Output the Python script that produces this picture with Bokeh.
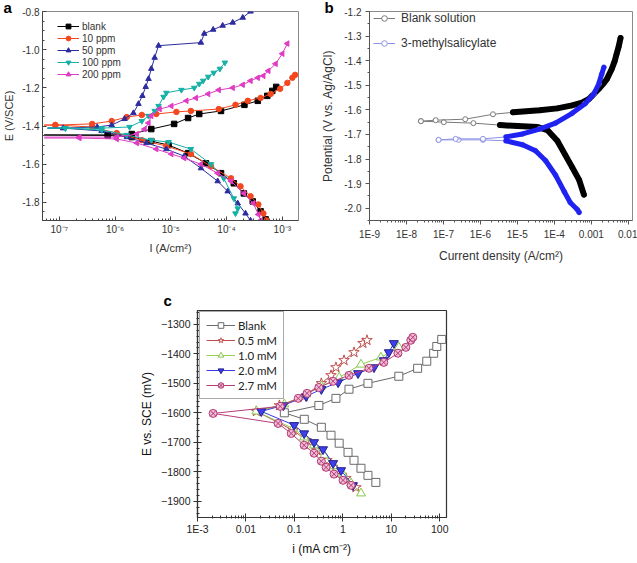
import numpy as np
from bokeh.plotting import figure
from bokeh.layouts import row, column
from bokeh.models import (FixedTicker, SingleIntervalTicker, CustomJSTickFormatter, Spacer)
from bokeh.embed import file_html
from bokeh.resources import INLINE

FONT = "Liberation Sans"

# ---------------- panel a : log10(I / A cm^-2) and E (V/SCE) ----------------
a_names = ["blank", "10 ppm", "50 ppm", "100 ppm", "200 ppm"]

blank_an_logI = [-7.27, -6.13, -5.70, -5.35, -4.94, -4.69, -4.49, -4.10, -3.68, -3.44, -3.27, -3.18, -3.11]
blank_an_E = [-1.447, -1.447, -1.442, -1.416, -1.389, -1.358, -1.337, -1.321, -1.289, -1.268, -1.242, -1.216, -1.195]
blank_ca_logI = [-7.27, -6.13, -5.70, -5.35, -5.04, -4.69, -4.37, -4.10, -3.87, -3.69, -3.53, -3.39, -3.30]
blank_ca_E = [-1.447, -1.449, -1.458, -1.479, -1.500, -1.542, -1.595, -1.647, -1.700, -1.753, -1.795, -1.847, -1.889]

ppm10_an_logI = [-7.27, -7.07, -6.41, -6.06, -5.79, -5.52, -5.26, -4.90, -4.64, -4.14, -3.84, -3.62, -3.39, -3.21, -3.04, -2.91, -2.82, -2.77]
ppm10_an_E = [-1.395, -1.395, -1.389, -1.374, -1.353, -1.342, -1.337, -1.326, -1.321, -1.311, -1.289, -1.268, -1.253, -1.232, -1.205, -1.174, -1.147, -1.132]
ppm10_ca_logI = [-7.27, -7.07, -6.41, -5.97, -5.52, -5.08, -4.64, -4.28, -3.92, -3.75, -3.57, -3.43, -3.34, -3.28]
ppm10_ca_E = [-1.395, -1.395, -1.405, -1.437, -1.474, -1.505, -1.547, -1.611, -1.674, -1.716, -1.768, -1.811, -1.858, -1.895]

ppm50_an_logI = [-7.21, -6.93, -6.32, -6.06, -5.83, -5.67, -5.58, -5.51, -5.45, -5.40, -5.35, -5.29, -5.22, -4.46, -4.40, -4.24, -4.07, -3.89, -3.71, -3.57]
ppm50_an_E = [-1.411, -1.411, -1.405, -1.395, -1.363, -1.332, -1.284, -1.242, -1.195, -1.153, -1.100, -1.042, -0.979, -0.963, -0.916, -0.895, -0.874, -0.858, -0.832, -0.800]
ppm50_ca_logI = [-7.21, -6.93, -6.24, -5.79, -5.44, -5.08, -4.76, -4.46, -4.16, -3.98, -3.80, -3.66, -3.57]
ppm50_ca_E = [-1.411, -1.411, -1.426, -1.458, -1.489, -1.521, -1.558, -1.621, -1.689, -1.742, -1.805, -1.858, -1.895]

ppm100_an_logI = [-7.21, -6.89, -6.24, -5.74, -5.52, -5.40, -5.29, -5.22, -5.13, -5.08, -4.81, -4.58, -4.49, -4.42, -4.33, -4.23, -4.12, -4.03]
ppm100_an_E = [-1.411, -1.411, -1.411, -1.405, -1.374, -1.347, -1.321, -1.295, -1.247, -1.226, -1.211, -1.200, -1.179, -1.163, -1.142, -1.121, -1.100, -1.068]
ppm100_ca_logI = [-7.21, -6.89, -6.24, -5.79, -5.35, -5.04, -4.64, -4.28, -4.05, -3.87, -3.80, -3.84]
ppm100_ca_E = [-1.411, -1.411, -1.421, -1.447, -1.474, -1.484, -1.521, -1.600, -1.674, -1.779, -1.832, -1.858]

ppm200_an_logI = [-7.27, -6.64, -5.97, -5.61, -5.47, -5.40, -5.35, -5.20, -4.99, -4.72, -4.55, -4.33, -4.14, -3.89, -3.71, -3.57, -3.44, -3.34, -3.25, -3.12, -3.00, -2.91]
ppm200_an_E = [-1.458, -1.458, -1.458, -1.442, -1.416, -1.384, -1.347, -1.311, -1.295, -1.268, -1.253, -1.232, -1.211, -1.200, -1.184, -1.163, -1.147, -1.137, -1.111, -1.074, -1.021, -0.968]
ppm200_ca_logI = [-7.27, -6.64, -5.97, -5.61, -5.26, -4.99, -4.76, -4.46, -4.16, -3.92, -3.69, -3.52, -3.43, -3.39]
ppm200_ca_E = [-1.463, -1.463, -1.468, -1.489, -1.521, -1.547, -1.568, -1.600, -1.647, -1.689, -1.753, -1.805, -1.863, -1.895]

# ---------------- panel b : log10(current density) and potential (V vs Ag/AgCl) ----------------
b_names = ["Blank solution", "3-methylsalicylate"]

blank_b_ca_logI = [-7.61, -6.99, -6.19, -5.47, -4.99, -4.45, -4.19, -3.92, -3.71, -3.52, -3.33, -3.20]
blank_b_ca_E = [-1.646, -1.650, -1.654, -1.662, -1.666, -1.670, -1.682, -1.726, -1.782, -1.833, -1.885, -1.945]
blank_b_an_logI = [-7.61, -7.21, -6.41, -5.66, -5.12, -4.40, -3.92, -3.52, -3.25, -3.06, -2.93, -2.80, -2.66, -2.58, -2.45, -2.37, -2.32, -2.26, -2.21]
blank_b_an_E = [-1.646, -1.642, -1.638, -1.618, -1.610, -1.602, -1.594, -1.582, -1.571, -1.555, -1.535, -1.515, -1.491, -1.475, -1.435, -1.403, -1.375, -1.343, -1.308]

msal_b_ca_logI = [-7.13, -6.59, -5.93, -5.31, -4.86, -4.51, -4.24, -3.97, -3.73, -3.57, -3.38, -3.33]
msal_b_ca_E = [-1.722, -1.722, -1.722, -1.726, -1.742, -1.766, -1.806, -1.865, -1.933, -1.977, -2.005, -2.017]
msal_b_an_logI = [-7.13, -6.67, -5.93, -5.31, -4.86, -4.40, -3.97, -3.52, -3.17, -2.93, -2.80, -2.72, -2.66]
msal_b_an_E = [-1.722, -1.718, -1.718, -1.710, -1.698, -1.678, -1.654, -1.614, -1.575, -1.535, -1.495, -1.455, -1.427]

# ---------------- panel c : i (mA cm^-2) and E vs SCE (mV) ----------------
c_names = ["Blank", "0.5 mM", "1.0 mM", "2.0 mM", "2.7 mM"]

blank_c_i = [4.8, 3.3, 2.37, 1.70, 1.28, 0.84, 0.57, 0.36, 0.16, 0.062, 0.32, 0.72, 1.34, 3.3, 14.3, 35, 54, 75, 87, 110]
blank_c_E = [-1836, -1812, -1788, -1761, -1734, -1703, -1676, -1649, -1622, -1600, -1575, -1551, -1520, -1500, -1476, -1449, -1425, -1398, -1375, -1351]
mm05_c_i = [1.87, 1.16, 0.76, 0.47, 0.29, 0.175, 0.094, 0.0164, 0.049, 0.159, 0.36, 0.57, 0.72, 1.06, 1.70, 2.6, 3.15]
mm05_c_E = [-1853, -1822, -1795, -1761, -1727, -1693, -1659, -1595, -1575, -1544, -1500, -1473, -1446, -1422, -1395, -1364, -1354]
mm10_c_i = [2.37, 1.48, 1.0, 0.66, 0.41, 0.255, 0.159, 0.094, 0.0164, 0.062, 0.175, 0.36, 0.84, 2.37, 6.1, 14.3]
mm10_c_E = [-1873, -1839, -1808, -1781, -1744, -1710, -1683, -1653, -1595, -1571, -1537, -1510, -1480, -1436, -1412, -1378]
mm20_c_i = [1.62, 0.92, 0.63, 0.39, 0.255, 0.159, 0.099, 0.0207, 0.059, 0.175, 0.36, 0.80, 2.06, 4.4, 7.0, 8.9, 11.3]
mm20_c_E = [-1846, -1795, -1771, -1724, -1700, -1670, -1642, -1595, -1575, -1544, -1520, -1497, -1466, -1446, -1422, -1395, -1364]
mm27_c_i = [1.48, 1.01, 0.66, 0.45, 0.36, 0.255, 0.159, 0.086, 0.046, 0.0021, 0.051, 0.12, 0.183, 0.32, 0.63, 1.34, 3.46, 7.0, 13.7, 20, 25.3, 27.8]
mm27_c_E = [-1846, -1829, -1808, -1785, -1764, -1737, -1710, -1670, -1636, -1602, -1578, -1551, -1534, -1514, -1493, -1473, -1449, -1429, -1398, -1378, -1354, -1344]


def pow10(v):
    return np.power(10.0, np.asarray(v))


def decade_minors(e0, e1):
    return [k * 10.0 ** e for e in range(e0, e1 + 1) for k in range(2, 10)]


def style_axis(ax, size, color="#333333", axis_color="#444444"):
    ax.major_label_text_font = FONT
    ax.major_label_text_font_size = size
    ax.major_label_text_color = color
    ax.axis_label_text_font = FONT
    ax.axis_label_text_font_style = "normal"
    ax.axis_label_text_color = color
    ax.axis_line_color = axis_color
    ax.major_tick_line_color = axis_color
    ax.minor_tick_line_color = axis_color


def panel_letter(p, letter, offset, standoff):
    # bold panel letter drawn as the figure title, pulled left of the frame
    p.title.text = letter
    p.title.align = "left"
    p.title.offset = offset
    p.title.standoff = standoff
    p.title.text_font = FONT
    p.title.text_font_size = "15px"
    p.title.text_font_style = "bold"
    p.title.text_color = "#000000"


one_decimal = CustomJSTickFormatter(code="return tick.toFixed(1);")

# =============================== panel a ===============================
pa = figure(width=318, height=285, x_axis_type="log", x_range=(5.0e-8, 1.95e-3), y_range=(-1.895, -0.8),
            output_backend="svg", toolbar_location=None,
            min_border_left=40, min_border_right=20, min_border_top=11, min_border_bottom=65)
pa.grid.visible = False
pa.outline_line_color = "#8a8a8a"
pa.xaxis.ticker = FixedTicker(ticks=[1e-7, 1e-6, 1e-5, 1e-4, 1e-3], minor_ticks=decade_minors(-8, -3))
pa.xaxis.formatter = CustomJSTickFormatter(code="""
const sup = {"-": "\u207b", "0": "\u2070", "1": "\u00b9", "2": "\u00b2", "3": "\u00b3", "4": "\u2074",
             "5": "\u2075", "6": "\u2076", "7": "\u2077", "8": "\u2078", "9": "\u2079"};
const e = Math.round(Math.log10(tick));
return "10" + String(e).split("").map(c => sup[c]).join("");
""")
pa.yaxis.ticker = SingleIntervalTicker(interval=0.2, num_minor_ticks=4)
pa.yaxis.formatter = one_decimal
for ax in pa.axis:
    style_axis(ax, "10px")
    ax.major_tick_in = 4
    ax.major_tick_out = 0
    ax.minor_tick_in = 2
    ax.minor_tick_out = 0
    ax.major_label_standoff = 3
    ax.axis_label_standoff = 4
    ax.axis_label_text_font_size = "11px"
pa.xaxis.axis_label = "I (A/cm\u00b2)"
pa.yaxis.axis_label = "E (V/SCE)"

a_series = [
    ("blank", "#000000", "square", 0.0, blank_an_logI, blank_an_E, blank_ca_logI, blank_ca_E),
    ("10 ppm", "#f4471f", "circle", 0.0, ppm10_an_logI, ppm10_an_E, ppm10_ca_logI, ppm10_ca_E),
    ("50 ppm", "#2c2ca0", "triangle", 0.0, ppm50_an_logI, ppm50_an_E, ppm50_ca_logI, ppm50_ca_E),
    ("100 ppm", "#15b0a6", "inverted_triangle", 0.0, ppm100_an_logI, ppm100_an_E, ppm100_ca_logI, ppm100_ca_E),
    ("200 ppm", "#e03cc4", "triangle", np.pi / 2, ppm200_an_logI, ppm200_an_E, ppm200_ca_logI, ppm200_ca_E),
]
for name, col, mk, ang, al, ae, cl, ce in a_series:
    pa.line(pow10(cl), ce, line_color=col, line_width=1)
    pa.scatter(pow10(cl[1:]), ce[1:], marker=mk, angle=ang, size=5.5, color=col)
    pa.line(pow10(al), ae, line_color=col, line_width=1, legend_label=name)
    pa.scatter(pow10(al[1:]), ae[1:], marker=mk, angle=ang, size=5.5, color=col, legend_label=name)

lg = pa.legend[0]
lg.location = (15, 140)
lg.border_line_alpha = 0
lg.background_fill_alpha = 0
lg.padding = 0
lg.margin = 0
lg.spacing = 0
lg.glyph_width = 22
lg.glyph_height = 12
lg.label_height = 12
lg.label_standoff = 3
lg.label_text_font = FONT
lg.label_text_font_size = "10px"
lg.label_text_color = "#333333"
panel_letter(pa, "a", -39, -8)

# =============================== panel b ===============================
pb = figure(width=319, height=285, x_axis_type="log", x_range=(1e-9, 1.3e-2), y_range=(-2.05, -1.2),
            output_backend="svg", toolbar_location=None,
            min_border_left=48, min_border_right=5, min_border_top=11, min_border_bottom=60)
pb.grid.visible = False
pb.outline_line_color = "#8a8a8a"
pb.xaxis.ticker = FixedTicker(ticks=[1e-9, 1e-8, 1e-7, 1e-6, 1e-5, 1e-4, 1e-3, 1e-2],
                              minor_ticks=decade_minors(-9, -2))
pb.xaxis.formatter = CustomJSTickFormatter(code="""
if (tick < 0.0005) { return "1E" + Math.round(Math.log10(tick)); }
return String(Number(tick.toPrecision(1)));
""")
pb.yaxis.ticker = SingleIntervalTicker(interval=0.1, num_minor_ticks=2)
pb.yaxis.formatter = one_decimal
for ax in pb.axis:
    style_axis(ax, "10px", axis_color="#555555")
    ax.major_tick_in = 0
    ax.major_tick_out = 4
    ax.minor_tick_in = 0
    ax.minor_tick_out = 2
    ax.major_label_standoff = 4
    ax.axis_label_standoff = 6
    ax.axis_label_text_font_size = "12px"
pb.xaxis.axis_label = "Current density (A/cm\u00b2)"
pb.yaxis.axis_label = "Potential (V vs. Ag/AgCl)"

b_series = [
    ("Blank solution", "#7a7a7a", "#000000", 6, blank_b_ca_logI, blank_b_ca_E, blank_b_an_logI, blank_b_an_E, 3, 4),
    ("3-methylsalicylate", "#8e92e6", "#1f22f0", 5, msal_b_ca_logI, msal_b_ca_E, msal_b_an_logI, msal_b_an_E, 3, 3),
]
for name, light, dark, lw, cl, ce, al, ae, kc, ka in b_series:
    pb.line(pow10(cl), ce, line_color=light, line_width=1)
    pb.scatter(pow10(cl), ce, marker="circle", size=5, line_color=light, fill_color="white")
    pb.line(pow10(al), ae, line_color=light, line_width=1, legend_label=name)
    pb.scatter(pow10(al), ae, marker="circle", size=5, line_color=light, fill_color="white", legend_label=name)
    pb.line(pow10(cl[kc:]), ce[kc:], line_color=dark, line_width=lw, line_join="round", line_cap="round")
    pb.line(pow10(al[ka:]), ae[ka:], line_color=dark, line_width=lw, line_join="round", line_cap="round")

lg = pb.legend[0]
lg.location = (4, 170)
lg.border_line_alpha = 0
lg.background_fill_alpha = 0
lg.padding = 0
lg.margin = 0
lg.spacing = 11
lg.glyph_width = 22
lg.glyph_height = 14
lg.label_height = 14
lg.label_standoff = 6
lg.label_text_font = FONT
lg.label_text_font_size = "12px"
lg.label_text_color = "#333333"
panel_letter(pb, "b", -45, -8)

# =============================== panel c ===============================
pc = figure(width=363, height=278, x_axis_type="log", x_range=(1e-3, 138), y_range=(-1955, -1253),
            output_backend="svg", toolbar_location=None,
            min_border_left=58, min_border_right=54, min_border_top=25, min_border_bottom=46)
pc.grid.visible = False
pc.outline_line_color = "#333333"
pc.outline_line_width = 1.2
c_xticker = FixedTicker(ticks=[1e-3, 1e-2, 0.1, 1, 10, 100], minor_ticks=decade_minors(-3, 2))
c_yticker = SingleIntervalTicker(interval=100, num_minor_ticks=5)
bottom_axis = pc.below[0]
left_axis = pc.left[0]
bottom_axis.ticker = c_xticker
bottom_axis.formatter = CustomJSTickFormatter(code="""
if (tick < 0.005) { return "1E" + Math.round(Math.log10(tick)); }
return String(Number(tick.toPrecision(1)));
""")
left_axis.ticker = c_yticker
for ax in (bottom_axis, left_axis):
    style_axis(ax, "10.5px", color="#222222", axis_color="#333333")
    ax.major_tick_in = 4
    ax.major_tick_out = 4
    ax.minor_tick_in = 2
    ax.minor_tick_out = 1
    ax.major_label_standoff = 3
    ax.axis_line_width = 1.2
    ax.axis_label_standoff = 4
    ax.axis_label_text_font_size = "12px"
    ax.axis_label_text_color = "#111111"
bottom_axis.major_label_standoff = 1
bottom_axis.axis_label = "i (mA cm\u207b\u00b2)"
left_axis.axis_label = "E vs. SCE (mV)"

c_series = [
    ("Blank", blank_c_i, blank_c_E, "#6a6a6a", "square", "#6a6a6a", "white", 8),
    ("0.5 mM", mm05_c_i, mm05_c_E, "#c0504d", "star", "#c0504d", "white", 11),
    ("1.0 mM", mm10_c_i, mm10_c_E, "#92d050", "triangle", "#86c84a", "white", 9),
    ("2.0 mM", mm20_c_i, mm20_c_E, "#3a3ae8", "inverted_triangle", "#20208a", "#3f3ff0", 9),
    ("2.7 mM", mm27_c_i, mm27_c_E, "#b83c78", "circle_x", "#b03a74", "#f3bcd6", 8),
]
for name, xs, ys, lc, mk, mlc, mfc, ms in c_series:
    pc.line(xs, ys, line_color=lc, line_width=1, legend_label=name)
    pc.scatter(xs, ys, marker=mk, size=ms, line_color=mlc, fill_color=mfc, line_width=1, legend_label=name)

lg = pc.legend[0]
lg.location = (2, 118)
lg.border_line_color = "#555555"
lg.border_line_width = 1
lg.background_fill_color = "white"
lg.background_fill_alpha = 1
lg.padding = 6
lg.margin = 0
lg.spacing = 1
lg.glyph_width = 29
lg.glyph_height = 14
lg.label_height = 14
lg.label_standoff = 3
lg.label_text_font = "Lato"
lg.label_text_font_size = "11.5px"
lg.label_text_color = "#222222"
panel_letter(pc, "c", -34, 4)

layout = column(row(pa, pb), row(Spacer(width=137, height=278), pc))
open("out.html", "w").write(file_html(layout, INLINE))
